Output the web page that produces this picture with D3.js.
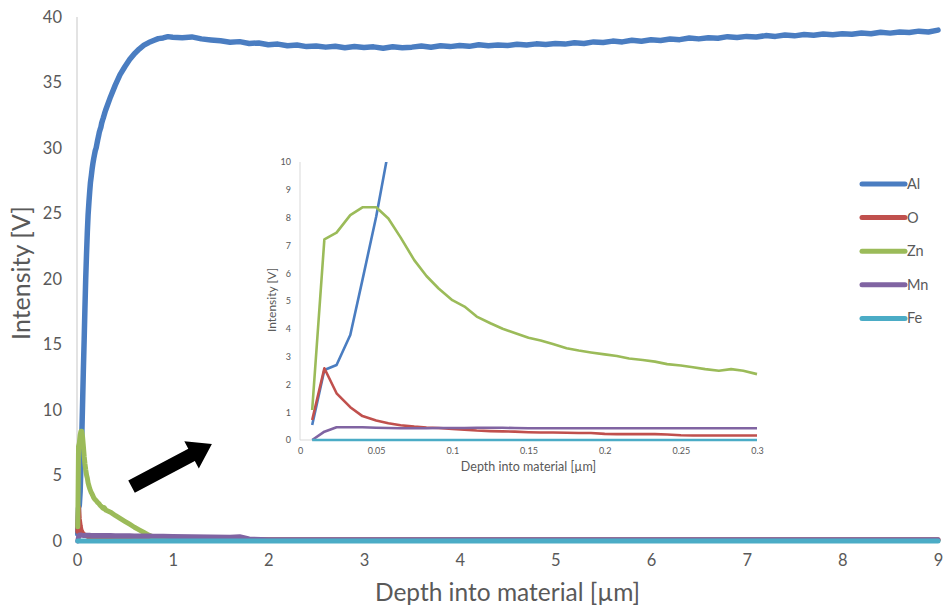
<!DOCTYPE html>
<html>
<head>
<meta charset="utf-8">
<script src="https://cdn.jsdelivr.net/npm/d3@7"></script>
<style>
  body { margin: 0; background: #fff; }
  text { font-family: Lato, "Open Sans", sans-serif; fill: #595959; }
</style>
</head>
<body>
<div id="chart"></div>
<script>
// Data
// ==============================================================================
var elements = ["Al", "O", "Zn", "Mn", "Fe"];
var colors = ["#4a7dc1", "#c0504d", "#9bbb59", "#8064a2", "#4bacc6"];

// fine sampling (used by the inset, 0 - 0.3 um)
var depthFine = [0.008, 0.016, 0.024, 0.033, 0.041, 0.050, 0.058, 0.066, 0.075, 0.083,
  0.091, 0.100, 0.108, 0.116, 0.125, 0.133, 0.141, 0.150, 0.158, 0.166,
  0.175, 0.183, 0.191, 0.200, 0.208, 0.216, 0.225, 0.233, 0.241, 0.250,
  0.258, 0.266, 0.275, 0.283, 0.291, 0.300];

var alFine = [0.54, 2.52, 2.70, 3.78, 5.76, 8.03, 10.4, 12.9, 15.4, 17.8,
  20.0, 22.0, 23.6, 24.9, 25.9, 26.7, 27.4, 27.9, 28.4, 28.8,
  29.2, 29.5, 29.8, 30.0, 30.3, 30.6, 30.9, 31.2, 31.4, 31.6,
  31.9, 32.1, 32.3, 32.5, 32.7, 32.9];
var oFine = [0.72, 2.58, 1.68, 1.18, 0.86, 0.70, 0.60, 0.53, 0.48, 0.45,
  0.43, 0.40, 0.37, 0.34, 0.32, 0.31, 0.30, 0.28, 0.27, 0.27,
  0.26, 0.25, 0.25, 0.22, 0.21, 0.21, 0.21, 0.21, 0.20, 0.17,
  0.16, 0.16, 0.16, 0.16, 0.16, 0.16];
var znFine = [1.08, 7.22, 7.46, 8.09, 8.37, 8.37, 7.97, 7.29, 6.47, 5.90,
  5.45, 5.03, 4.80, 4.44, 4.20, 4.00, 3.85, 3.68, 3.58, 3.45,
  3.30, 3.22, 3.15, 3.08, 3.02, 2.93, 2.88, 2.82, 2.73, 2.68,
  2.62, 2.55, 2.49, 2.55, 2.49, 2.37];
var mnFine = [0.00, 0.30, 0.46, 0.46, 0.46, 0.44, 0.43, 0.42, 0.42, 0.42,
  0.43, 0.43, 0.43, 0.44, 0.44, 0.44, 0.43, 0.42, 0.42, 0.42,
  0.42, 0.42, 0.42, 0.42, 0.42, 0.42, 0.42, 0.42, 0.42, 0.42,
  0.42, 0.42, 0.42, 0.42, 0.42, 0.42];
var feFine = [0, 0, 0, 0, 0, 0, 0, 0, 0, 0,
  0, 0, 0, 0, 0, 0, 0, 0, 0, 0,
  0, 0, 0, 0, 0, 0, 0, 0, 0, 0,
  0, 0, 0, 0, 0, 0];

// coarse tail for the main chart (beyond 0.3 um)
var depthTail = [0.35, 0.4, 0.45, 0.5, 0.55, 0.6, 0.65, 0.7, 0.75, 0.8,
  0.85, 0.9, 1.0, 1.2, 1.4, 1.6, 1.7, 1.8, 2.0, 3.0,
  4.0, 5.0, 6.0, 7.0, 8.0, 9.0];
var oTail = [0.15, 0.15, 0.14, 0.14, 0.14, 0.13, 0.13, 0.13, 0.12, 0.12,
  0.12, 0.12, 0.12, 0.11, 0.11, 0.1, 0.1, 0.1, 0.1, 0.1,
  0.1, 0.1, 0.1, 0.1, 0.1, 0.1];
var znTail = [2.20, 1.95, 1.72, 1.50, 1.28, 1.05, 0.85, 0.65, 0.45, 0.28,
  0.15, 0.08, 0.05, 0.05, 0.05, 0.05, 0.05, 0.05, 0.05, 0.05,
  0.05, 0.05, 0.05, 0.05, 0.05, 0.05];
var mnTail = [0.42, 0.41, 0.41, 0.40, 0.40, 0.39, 0.39, 0.38, 0.38, 0.37,
  0.37, 0.36, 0.35, 0.33, 0.31, 0.28, 0.32, 0.15, 0.10, 0.10,
  0.10, 0.10, 0.10, 0.10, 0.10, 0.10];
var feTail = [0, 0, 0, 0, 0, 0, 0, 0, 0, 0,
  0, 0, 0, 0, 0, 0, 0, 0, 0, 0,
  0, 0, 0, 0, 0, 0];

// Al has its own (noisy) tail
var alTailDepth = [0.35, 0.4, 0.45, 0.5, 0.55, 0.6, 0.65, 0.7, 0.75, 0.8, 0.85, 0.9, 0.95, 1.0,
  1.1, 1.2, 1.3, 1.4, 1.5, 1.6, 1.7, 1.8, 1.9, 2.0,
  2.1, 2.2, 2.3, 2.4, 2.5, 2.6, 2.7, 2.8, 2.9, 3.0,
  3.1, 3.2, 3.3, 3.4, 3.5, 3.6, 3.7, 3.8, 3.9, 4.0,
  4.1, 4.2, 4.3, 4.4, 4.5, 4.6, 4.7, 4.8, 4.9, 5.0,
  5.1, 5.2, 5.3, 5.4, 5.5, 5.6, 5.7, 5.8, 5.9, 6.0,
  6.1, 6.2, 6.3, 6.4, 6.5, 6.6, 6.7, 6.8, 6.9, 7.0,
  7.1, 7.2, 7.3, 7.4, 7.5, 7.6, 7.7, 7.8, 7.9, 8.0,
  8.1, 8.2, 8.3, 8.4, 8.5, 8.6, 8.7, 8.8, 8.9, 9.0];
var alTail = [33.9, 34.8, 35.6, 36.2, 36.75, 37.2, 37.55, 37.85, 38.05, 38.2, 38.35, 38.4, 38.5, 38.45,
  38.42, 38.48, 38.33, 38.25, 38.18, 38.08, 38.12, 37.98, 38.02, 37.88,
  37.93, 37.80, 37.86, 37.74, 37.79, 37.70, 37.76, 37.66, 37.74, 37.68,
  37.72, 37.62, 37.73, 37.66, 37.70, 37.78, 37.69, 37.80, 37.74, 37.83,
  37.76, 37.88, 37.80, 37.86, 37.82, 37.92, 37.86, 37.95, 37.90, 37.98,
  37.93, 38.04, 37.98, 38.10, 38.05, 38.16, 38.10, 38.22, 38.15, 38.26,
  38.20, 38.32, 38.27, 38.40, 38.33, 38.42, 38.38, 38.50, 38.44, 38.52,
  38.47, 38.58, 38.52, 38.62, 38.56, 38.66, 38.60, 38.70, 38.64, 38.72,
  38.68, 38.78, 38.72, 38.84, 38.77, 38.86, 38.82, 38.92, 38.86, 39.00];

// tick labels
var mainYTicks = [0, 5, 10, 15, 20, 25, 30, 35, 40];
var mainXTicks = [0, 1, 2, 3, 4, 5, 6, 7, 8, 9];
var insetYTicks = [0, 1, 2, 3, 4, 5, 6, 7, 8, 9, 10];
var insetXTicks = [0, 0.05, 0.1, 0.15, 0.2, 0.25, 0.3];

function pairs(xs, ys) {
  return xs.map(function(d, i) { return { depth: d, value: ys[i] }; });
}

var fineSeries = [alFine, oFine, znFine, mnFine, feFine].map(function(v, i) {
  return { name: elements[i], color: colors[i], values: pairs(depthFine, v) };
});
var mainSeries = [
  pairs(depthFine, alFine).concat(pairs(alTailDepth, alTail)),
  pairs(depthFine, oFine).concat(pairs(depthTail, oTail)),
  pairs(depthFine, znFine).concat(pairs(depthTail, znTail)),
  pairs(depthFine, mnFine).concat(pairs(depthTail, mnTail)),
  pairs(depthFine, feFine).concat(pairs(depthTail, feTail))
].map(function(v, i) {
  return { name: elements[i], color: colors[i], values: v };
});

// Canvas
// ==============================================================================
var svgWidth = 946;
var svgHeight = 610;

var svg = d3.select("#chart")
  .append("svg")
  .attr("width", svgWidth)
  .attr("height", svgHeight);

// Main chart
// ==============================================================================
var xMain = d3.scaleLinear().domain([0, 9]).range([77, 938]);
var yMain = d3.scaleLinear().domain([0, 40]).range([541, 17]);

svg.append("line")
  .attr("x1", xMain(0)).attr("x2", xMain(0))
  .attr("y1", yMain(40)).attr("y2", yMain(0))
  .attr("stroke", "#d0d0d0").attr("stroke-width", 1.2);
svg.append("line")
  .attr("x1", xMain(0)).attr("x2", xMain(9))
  .attr("y1", yMain(0)).attr("y2", yMain(0))
  .attr("stroke", "#d0d0d0").attr("stroke-width", 1.2);

var mainLeft = svg.append("g")
  .attr("transform", "translate(" + xMain(0) + ",0)")
  .call(d3.axisLeft(yMain).tickValues(mainYTicks).tickSize(0).tickPadding(15));
var mainBottom = svg.append("g")
  .attr("transform", "translate(0," + yMain(0) + ")")
  .call(d3.axisBottom(xMain).tickValues(mainXTicks).tickSize(0).tickPadding(13));
[mainLeft, mainBottom].forEach(function(g) {
  g.select(".domain").remove();
  g.selectAll("text").style("font-size", "16.5px").attr("fill", "#595959")
    .style("font-family", "Lato, sans-serif");
});

var lineMain = d3.line()
  .x(d => xMain(d.depth))
  .y(d => yMain(d.value));

svg.append("g").selectAll("path")
  .data(mainSeries)
  .enter()
  .append("path")
  .attr("d", d => lineMain(d.values))
  .attr("fill", "none")
  .attr("stroke", d => d.color)
  .attr("stroke-width", (d, i) => i === 0 ? 5.5 : 5)
  .attr("stroke-linejoin", "round")
  .attr("stroke-linecap", "round");

svg.append("text")
  .attr("x", (xMain(0) + xMain(9)) / 2)
  .attr("y", 601)
  .attr("text-anchor", "middle")
  .style("font-size", "24.5px")
  .text("Depth into material [µm]");

svg.append("text")
  .attr("transform", "translate(30," + 273 + ") rotate(-90)")
  .attr("text-anchor", "middle")
  .style("font-size", "25px")
  .text("Intensity [V]");

// Arrow pointing at the inset
// ==============================================================================
var tail = [xMain(0.57), yMain(4.15)];
var tip = [xMain(1.41), yMain(7.4)];
var dx = tip[0] - tail[0], dy = tip[1] - tail[1];
var len = Math.sqrt(dx * dx + dy * dy);
var ux = dx / len, uy = dy / len, px = -uy, py = ux;
var shaftW = 7, headW = 15.5, headL = 23;
var bx = tip[0] - ux * headL, by = tip[1] - uy * headL;
var arrowPts = [
  [tail[0] + px * shaftW, tail[1] + py * shaftW],
  [bx + px * shaftW, by + py * shaftW],
  [bx + px * headW, by + py * headW],
  tip,
  [bx - px * headW, by - py * headW],
  [bx - px * shaftW, by - py * shaftW],
  [tail[0] - px * shaftW, tail[1] - py * shaftW]
];
svg.append("polygon")
  .attr("points", arrowPts.map(p => p.join(",")).join(" "))
  .attr("fill", "#000");

// Inset chart
// ==============================================================================
var xIn = d3.scaleLinear().domain([0, 0.3]).range([300, 757]);
var yIn = d3.scaleLinear().domain([0, 10]).range([440, 162]);

svg.append("clipPath").attr("id", "insetClip")
  .append("rect")
  .attr("x", xIn(0)).attr("y", yIn(10))
  .attr("width", xIn(0.3) - xIn(0) + 4)
  .attr("height", yIn(0) - yIn(10) + 4);

svg.append("line")
  .attr("x1", xIn(0)).attr("x2", xIn(0))
  .attr("y1", yIn(10)).attr("y2", yIn(0))
  .attr("stroke", "#d9d9d9").attr("stroke-width", 1);
svg.append("line")
  .attr("x1", xIn(0)).attr("x2", xIn(0.3))
  .attr("y1", yIn(0)).attr("y2", yIn(0))
  .attr("stroke", "#d9d9d9").attr("stroke-width", 1);

var inLeft = svg.append("g")
  .attr("transform", "translate(" + xIn(0) + ",0)")
  .call(d3.axisLeft(yIn).tickValues(insetYTicks).tickSize(0).tickPadding(9));
var inBottom = svg.append("g")
  .attr("transform", "translate(0," + yIn(0) + ")")
  .call(d3.axisBottom(xIn).tickValues(insetXTicks).tickSize(0).tickPadding(8)
    .tickFormat(d3.format("~g")));
[inLeft, inBottom].forEach(function(g) {
  g.select(".domain").remove();
  g.selectAll("text").style("font-size", "9px").attr("fill", "#7f7f7f")
    .style("font-family", "Lato, sans-serif");
});

var lineIn = d3.line()
  .x(d => xIn(d.depth))
  .y(d => yIn(d.value));

svg.append("g")
  .attr("clip-path", "url(#insetClip)")
  .selectAll("path")
  .data(fineSeries)
  .enter()
  .append("path")
  .attr("d", d => lineIn(d.values))
  .attr("fill", "none")
  .attr("stroke", d => d.color)
  .attr("stroke-width", 2.6)
  .attr("stroke-linejoin", "round");

svg.append("text")
  .attr("x", (xIn(0) + xIn(0.3)) / 2)
  .attr("y", 471)
  .attr("text-anchor", "middle")
  .style("font-size", "12.5px")
  .text("Depth into material [µm]");

svg.append("text")
  .attr("transform", "translate(276," + 300 + ") rotate(-90)")
  .attr("text-anchor", "middle")
  .style("font-size", "12px")
  .text("Intensity [V]");

// Legend
// ==============================================================================
var legend = svg.append("g").selectAll("g")
  .data(elements)
  .enter()
  .append("g")
  .attr("transform", (d, i) => "translate(862," + (184 + i * 33.6) + ")");

legend.append("line")
  .attr("x1", 0).attr("x2", 43)
  .attr("stroke", (d, i) => colors[i])
  .attr("stroke-width", 5)
  .attr("stroke-linecap", "round");

legend.append("text")
  .attr("x", 45)
  .attr("y", 5)
  .style("font-size", "14.5px")
  .text(d => d);
</script>
</body>
</html>
